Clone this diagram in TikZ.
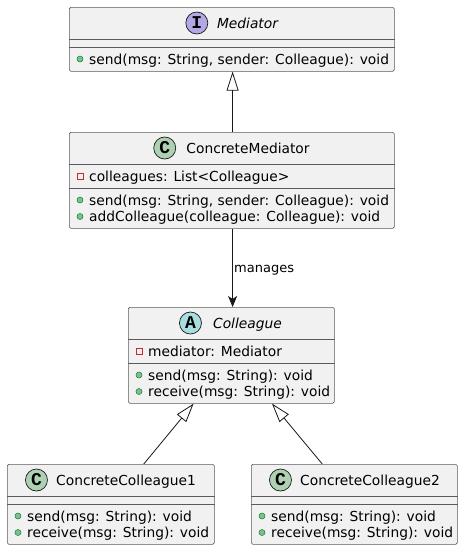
\documentclass[tikz,border=0pt]{standalone}
\usepackage{fontspec}
\setmainfont{DejaVu Sans}
\newfontfamily\iconfont{Liberation Mono}
\usetikzlibrary{arrows.meta,calc}
\definecolor{linec}{HTML}{181818}
\definecolor{sepc}{HTML}{5A5A5A}
\definecolor{boxfill}{HTML}{F1F1F1}
\definecolor{privc}{HTML}{C82930}
\definecolor{pubfill}{HTML}{84BE84}
\definecolor{pubdraw}{HTML}{038048}
\definecolor{icI}{HTML}{B4A7E5}
\definecolor{icC}{HTML}{ADD1B2}
\definecolor{icA}{HTML}{A9DCDF}
\tikzset{
  box/.style={draw=sepc, fill=boxfill, line width=0.6pt, inner sep=0pt, anchor=north west, rounded corners=1.5pt},
  sepline/.style={draw=sepc, line width=0.6pt},
  mem/.style={font=\fontsize{13.8}{16}\selectfont, anchor=base west, inner sep=0pt, text=black},
  ttl/.style={font=\fontsize{13.8}{16}\selectfont, anchor=base, inner sep=0pt, text=black},
  ittl/.style={font=\fontsize{13.8}{16}\selectfont\itshape, anchor=base, inner sep=0pt, text=black},
  icon/.style={circle, draw=linec, line width=0.7pt, minimum size=22pt, inner sep=0pt, font=\fontsize{18}{18}\selectfont\iconfont\bfseries, text=black},
  pub/.style={circle, draw=pubdraw, fill=pubfill, line width=0.5pt, minimum size=6pt, inner sep=0pt},
  priv/.style={rectangle, draw=privc, line width=0.8pt, minimum size=6pt, inner sep=0pt},
  gen/.style={draw=linec, line width=0.8pt, -{Triangle[open, length=19pt, width=12pt, line width=0.8pt]}},
  assoc/.style={draw=linec, line width=0.8pt, -{Stealth[length=11pt, width=9pt, inset=3pt]}},
  lbl/.style={font=\fontsize{13}{15}\selectfont, anchor=base west, inner sep=0pt, text=black}
}
\begin{document}
\begin{tikzpicture}[x=1pt, y=-1pt]
\useasboundingbox (0,0) rectangle (463,550);
\fill[white] (0,0) rectangle (463,550);

% ---------- Mediator ----------
\node[box, minimum width=325pt, minimum height=64pt] (med) at (69,7) {};
\draw[sepline] ($(med.north west)+(0,32)$) -- ($(med.north east)+(0,32)$);
\draw[sepline] ($(med.north west)+(0,40)$) -- ($(med.north east)+(0,40)$);
\node[ittl] (medname) at (247.5,28) {Mediator};
\node[icon, fill=icI] (medicon) at ($(medname.base west)+(-20,-5)$) {I};
\node[pub] (medm1p) at (80,59) {};
\node[mem] (medm1) at (89,64) {send(msg: String, sender: Colleague): void};

% ---------- ConcreteMediator ----------
\node[box, minimum width=325pt, minimum height=96pt] (cm) at (69,132) {};
\draw[sepline] ($(cm.north west)+(0,32)$) -- ($(cm.north east)+(0,32)$);
\draw[sepline] ($(cm.north west)+(0,56)$) -- ($(cm.north east)+(0,56)$);
\node[ttl] (cmname) at (248,153) {ConcreteMediator};
\node[icon, fill=icC] (cmicon) at ($(cmname.base west)+(-21.5,-5)$) {C};
\node[priv] (cma1p) at (80,176.5) {};
\node[mem] (cma1) at (89,181.5) {colleagues: List<Colleague>};
\node[pub] (cmm1p) at (80,200) {};
\node[mem] (cmm1) at (89,205) {send(msg: String, sender: Colleague): void};
\node[pub] (cmm2p) at (80,216.5) {};
\node[mem] (cmm2) at (89,221.5) {addColleague(colleague: Colleague): void};

% ---------- Colleague ----------
\node[box, minimum width=206pt, minimum height=96pt] (col) at (128,307) {};
\draw[sepline] ($(col.north west)+(0,32)$) -- ($(col.north east)+(0,32)$);
\draw[sepline] ($(col.north west)+(0,56)$) -- ($(col.north east)+(0,56)$);
\node[ittl] (colname) at (247.5,328) {Colleague};
\node[icon, fill=icA] (colicon) at ($(colname.base west)+(-22.5,-5)$) {A};
\node[priv] (cola1p) at (139,351) {};
\node[mem] (cola1) at (148,356) {mediator: Mediator};
\node[pub] (colm1p) at (139,375) {};
\node[mem] (colm1) at (148,380) {send(msg: String): void};
\node[pub] (colm2p) at (139,391.5) {};
\node[mem] (colm2) at (148,396.5) {receive(msg: String): void};

% ---------- ConcreteColleague1 ----------
\node[box, minimum width=207pt, minimum height=80pt] (cc1) at (7,464) {};
\draw[sepline] ($(cc1.north west)+(0,32)$) -- ($(cc1.north east)+(0,32)$);
\draw[sepline] ($(cc1.north west)+(0,40)$) -- ($(cc1.north east)+(0,40)$);
\node[ttl] (cc1name) at (126,485) {ConcreteColleague1};
\node[icon, fill=icC] (cc1icon) at ($(cc1name.base west)+(-19.5,-5)$) {C};
\node[pub] (cc1m1p) at (18,516) {};
\node[mem] (cc1m1) at (27,521) {send(msg: String): void};
\node[pub] (cc1m2p) at (18,532.5) {};
\node[mem] (cc1m2) at (27,537.5) {receive(msg: String): void};

% ---------- ConcreteColleague2 ----------
\node[box, minimum width=206pt, minimum height=80pt] (cc2) at (251,464) {};
\draw[sepline] ($(cc2.north west)+(0,32)$) -- ($(cc2.north east)+(0,32)$);
\draw[sepline] ($(cc2.north west)+(0,40)$) -- ($(cc2.north east)+(0,40)$);
\node[ttl] (cc2name) at (370,485) {ConcreteColleague2};
\node[icon, fill=icC] (cc2icon) at ($(cc2name.base west)+(-19.5,-5)$) {C};
\node[pub] (cc2m1p) at (262,516) {};
\node[mem] (cc2m1) at (271,521) {send(msg: String): void};
\node[pub] (cc2m2p) at (262,532.5) {};
\node[mem] (cc2m2) at (271,537.5) {receive(msg: String): void};

% ---------- Connectors ----------
\draw[gen] ($(cm.north)+(0.8,0)$) -- ($(med.south)+(0.8,0)$);
\draw[assoc] ($(cm.south)+(0.8,0)$) -- ($(cm.south |- col.north)+(0.8,0)$);
\node[lbl] (manages) at (234,272) {manages};
\draw[gen] ($(cc1.north)+(33,0)$) -- ($(col.south)+(-37.7,0)$);
\draw[gen] ($(cc2.north)+(-32,0)$) -- ($(col.south)+(40.7,0)$);
\end{tikzpicture}
\end{document}
